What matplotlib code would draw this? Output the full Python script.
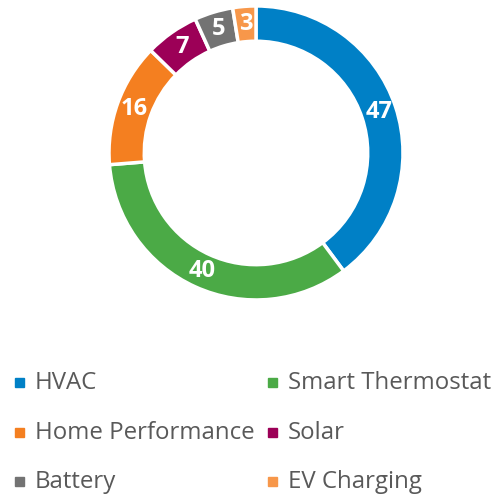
import matplotlib
matplotlib.use("Agg")
import matplotlib.pyplot as plt
from matplotlib.patches import Rectangle

categories = ["HVAC", "Smart Thermostat", "Home Performance", "Solar", "Battery", "EV Charging"]
values = [47, 40, 16, 7, 5, 3]
colors = ["#0080C6", "#4BAA46", "#F47F20", "#9C0057", "#737373", "#F7974A"]

plt.rcParams['font.family'] = ['Open Sans', 'DejaVu Sans']

fig = plt.figure(figsize=(5, 4.95), dpi=100)
ax = fig.add_axes([0.218, 0.394, 0.588, 0.594])
wedges, texts, autotexts = ax.pie(
    values, colors=colors, startangle=90, counterclock=False,
    wedgeprops=dict(width=0.24, edgecolor='white', linewidth=2.5),
    autopct=lambda p: f"{round(p * sum(values) / 100):d}", pctdistance=0.88,
    textprops=dict(color='white', fontsize=17, fontweight='bold'))
ax.set_xlim(-1, 1)
ax.set_ylim(-1, 1)
ax.set_aspect('equal')
ax.axis('off')

# Legend (row-major, two columns)
col_x = [15, 268]
row_base = [389, 439, 488]
for i, (cat, col) in enumerate(zip(categories, colors)):
    r, c = divmod(i, 2)
    x = col_x[c]
    yb = row_base[r]
    fig.patches.append(Rectangle((x / 500, 1 - (yb - 2) / 495), 9 / 500, 9 / 495,
                                 transform=fig.transFigure, color=col))
    fig.text((x + 20) / 500, 1 - yb / 495, cat, fontsize=17.3, color='#595959',
             va='baseline', ha='left')

fig.savefig("out.png", dpi=100)
